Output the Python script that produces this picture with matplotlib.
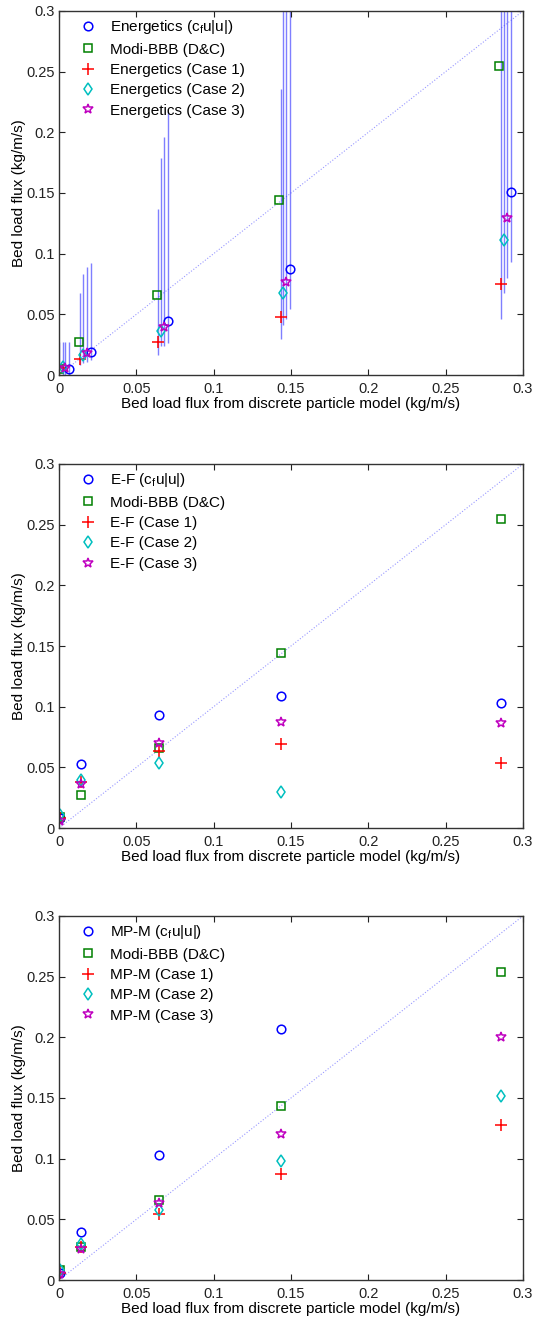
import numpy as np
import matplotlib
matplotlib.use("Agg")
import matplotlib.pyplot as plt

plt.rcParams['font.family'] = ['Liberation Sans', 'DejaVu Sans']
plt.rcParams['mathtext.fontset'] = 'custom'
plt.rcParams['mathtext.rm'] = 'Liberation Sans'
plt.rcParams['mathtext.it'] = 'Liberation Sans'

# ---- panel 1 : Energetics (x slightly shifted per series, with error bars)
p1_x_cf = [0.0065, 0.0205, 0.0707, 0.1491, 0.2920]
p1_x_modi = [0.0003, 0.0131, 0.0636, 0.1425, 0.2847]
p1_x_c1 = [0.0002, 0.0136, 0.0642, 0.1433, 0.2858]
p1_x_c2 = [0.0024, 0.0157, 0.0662, 0.1450, 0.2879]
p1_x_c3 = [0.0039, 0.0179, 0.0681, 0.1470, 0.2897]

p1_cf = [0.005, 0.0192, 0.0445, 0.0874, 0.151]
p1_modi = [0.005, 0.0274, 0.0659, 0.144, 0.255]
p1_c1 = [0.0055, 0.013, 0.0274, 0.048, 0.075]
p1_c2 = [0.0063, 0.0165, 0.0363, 0.0673, 0.111]
p1_c3 = [0.0055, 0.0179, 0.0393, 0.0764, 0.129]

# error ranges (low, high)
p1_c1_lo = [0.0, 0.008, 0.0165, 0.0294, 0.046]
p1_c1_hi = [0.0275, 0.0678, 0.1366, 0.2357, 0.40]
p1_c2_lo = [0.0, 0.0096, 0.024, 0.0412, 0.0678]
p1_c2_hi = [0.0275, 0.083, 0.179, 0.45, 0.50]
p1_c3_lo = [0.0, 0.011, 0.024, 0.046, 0.0797]
p1_c3_hi = [0.0275, 0.089, 0.196, 0.50, 0.55]
p1_cf_lo = [0.0, 0.0126, 0.0266, 0.054, 0.0934]
p1_cf_hi = [0.0275, 0.0926, 0.217, 0.55, 0.60]

# ---- panels 2 and 3 share the x values
x_dpm = [0.0005, 0.0142, 0.0647, 0.1433, 0.2858]

p2_cf = [0.008, 0.0527, 0.0929, 0.1088, 0.1033]
p2_modi = [0.009, 0.0272, 0.0657, 0.144, 0.255]
p2_c1 = [0.008, 0.038, 0.0637, 0.0692, 0.0538]
p2_c2 = [0.011, 0.0396, 0.0533, 0.030, np.nan]
p2_c3 = [0.006, 0.036, 0.0703, 0.0876, 0.0868]

p3_cf = [0.006, 0.0397, 0.1033, 0.2068, np.nan]
p3_modi = [0.008, 0.0269, 0.0663, 0.1435, 0.2542]
p3_c1 = [0.006, 0.027, 0.0548, 0.0871, 0.1274]
p3_c2 = [0.008, 0.0296, 0.058, 0.0978, 0.1515]
p3_c3 = [0.005, 0.0252, 0.0636, 0.120, 0.200]

names = ["Energetics", "E-F", "MP-M"]
ticks = [0, 0.05, 0.1, 0.15, 0.2, 0.25, 0.3]
tick_labels = ["0", "0.05", "0.1", "0.15", "0.2", "0.25", "0.3"]

col_cf = "#0000ff"
col_modi = "#008000"
col_c1 = "#ff0000"
col_c2 = "#00bfbf"
col_c3 = "#bf00bf"

fig = plt.figure(figsize=(5.33, 13.2), dpi=100)
left, width, height = 0.1107, 0.8705, 0.2758
bottoms = [0.7159, 0.3727, 0.0303]


def draw(ax, name, xs, ys):
    xcf, xmo, x1, x2, x3 = xs
    ycf, ymo, y1, y2, y3 = ys
    ax.plot([0, 0.3], [0, 0.3], ':', color="#9999ff", lw=0.8, zorder=1)
    kw = dict(ls='none', mfc='none', mew=1.1)
    ax.plot(xcf, ycf, 'o', color=col_cf, ms=6.2, label=name + r" (c$_\mathrm{f}$u|u|)", **kw)
    ax.plot(xmo, ymo, 's', color=col_modi, ms=6, label="Modi-BBB (D&C)", **kw)
    ax.plot(x1, y1, '+', color=col_c1, ms=8, label=name + " (Case 1)", **kw)
    ax.plot(x2, y2, 'd', color=col_c2, ms=6.5, label=name + " (Case 2)", **kw)
    ax.plot(x3, y3, '*', color=col_c3, ms=7, label=name + " (Case 3)", **kw)

    ax.set_xlim(0, 0.3)
    ax.set_ylim(0, 0.3)
    ax.set_xticks(ticks)
    ax.set_xticklabels(tick_labels)
    ax.set_yticks(ticks)
    ax.set_yticklabels(tick_labels)
    ax.tick_params(direction='in', top=True, right=True, length=4, width=0.8,
                   labelsize=10.5, colors='#222222')
    ax.tick_params(axis='x', pad=5)
    ax.tick_params(axis='y', pad=3)
    for s in ax.spines.values():
        s.set_color('#333333')
        s.set_linewidth(1.0)
    ax.set_xlabel("Bed load flux from discrete particle model (kg/m/s)", fontsize=11, labelpad=1)
    ax.set_ylabel("Bed load flux (kg/m/s)", fontsize=11, labelpad=0)
    ax.legend(loc='upper left', bbox_to_anchor=(0.033, 0.997), frameon=False,
              fontsize=11, handlelength=1.0, handletextpad=0.95,
              labelspacing=0.42, borderaxespad=0, borderpad=0.4)


# panel 1
ax1 = fig.add_axes([left, bottoms[0], width, height])
for xx, lo, hi in [(p1_x_c1, p1_c1_lo, p1_c1_hi), (p1_x_c2, p1_c2_lo, p1_c2_hi),
                   (p1_x_c3, p1_c3_lo, p1_c3_hi), (p1_x_cf, p1_cf_lo, p1_cf_hi)]:
    ax1.vlines(xx, lo, hi, color="#3a3aff", alpha=0.65, lw=1.0, zorder=1.5)
draw(ax1, names[0], [p1_x_cf, p1_x_modi, p1_x_c1, p1_x_c2, p1_x_c3],
     [p1_cf, p1_modi, p1_c1, p1_c2, p1_c3])

# panel 2
ax2 = fig.add_axes([left, bottoms[1], width, height])
draw(ax2, names[1], [x_dpm] * 5, [p2_cf, p2_modi, p2_c1, p2_c2, p2_c3])

# panel 3
ax3 = fig.add_axes([left, bottoms[2], width, height])
draw(ax3, names[2], [x_dpm] * 5, [p3_cf, p3_modi, p3_c1, p3_c2, p3_c3])

fig.savefig("out.png", dpi=100)
